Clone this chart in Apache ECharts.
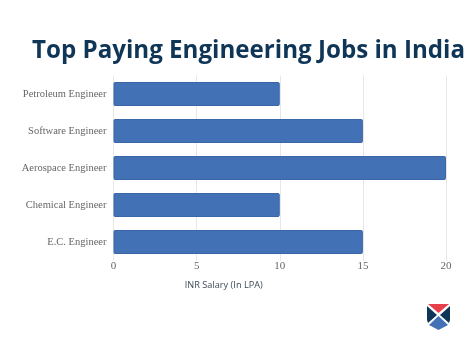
<!DOCTYPE html>
<html lang="en">
<head>
  <meta charset="UTF-8">
  <title>Top Paying Engineering Jobs in India</title>
  <script src="https://cdn.jsdelivr.net/npm/echarts@6/dist/echarts.min.js"></script>
  <style>
    * {margin: 0; padding: 0;}
    html, body {width: 100%; height: 100%; overflow: hidden; background-color: #fff;}
    #chart {width: 474px; height: 353px;}
  </style>
</head>
<body>
  <div id="chart"></div>
<script>
var categories = ['Petroleum Engineer', 'Software Engineer', 'Aerospace Engineer', 'Chemical Engineer', 'E.C. Engineer']
var salaries = [10, 15, 20, 10, 15]
var xTicks = [0, 5, 10, 15, 20]

var chart = echarts.init(document.getElementById('chart'))
chart.setOption({
  animation: false,
  title: {
    text: 'Top Paying Engineering Jobs in India',
    left: 27,
    top: 34,
    textStyle: {
      color: '#0f3557',
      fontFamily: 'Open Sans',
      fontWeight: 'bold',
      fontSize: 24.15
    }
  },
  grid: {left: 113.5, top: 75.5, width: 332.5, height: 185},
  xAxis: {
    type: 'value',
    min: xTicks[0],
    max: xTicks[xTicks.length - 1],
    interval: 5,
    name: 'INR Salary (In LPA)',
    nameLocation: 'middle',
    nameGap: 20,
    nameTextStyle: {color: '#3d4a57', fontFamily: 'Open Sans', fontSize: 9.2, padding: [0, 112, 0, 0]},
    axisLine: {show: false},
    axisTick: {show: false},
    axisLabel: {color: '#666', fontFamily: 'Liberation Serif', fontSize: 11, margin: 0},
    splitLine: {lineStyle: {color: '#e6e6e6', width: 1}}
  },
  yAxis: {
    type: 'category',
    inverse: true,
    data: categories,
    axisLine: {show: false},
    axisTick: {show: false},
    axisLabel: {color: '#666', fontFamily: 'Liberation Serif', fontSize: 10.5, margin: 7}
  },
  series: [{
    type: 'bar',
    data: salaries,
    barWidth: 24,
    itemStyle: {color: '#4272b5', borderColor: '#3a67a8', borderWidth: 1, borderRadius: 1}
  }],
  graphic: [
    // logo, bottom right
    {type: 'polygon', shape: {points: [[428, 304], [449, 304], [438.5, 313]]}, style: {fill: '#e8404a'}},
    {type: 'polygon', shape: {points: [[427, 306], [437, 315], [428, 323], [427, 320]]}, style: {fill: '#0f3557'}},
    {type: 'polygon', shape: {points: [[450, 306], [440, 315], [449, 323], [450, 320]]}, style: {fill: '#0f3557'}},
    {type: 'polygon', shape: {points: [[438.5, 316], [448, 325], [438.5, 330], [429, 325]]}, style: {fill: '#4272b5'}}
  ]
})
</script>
</body>
</html>
